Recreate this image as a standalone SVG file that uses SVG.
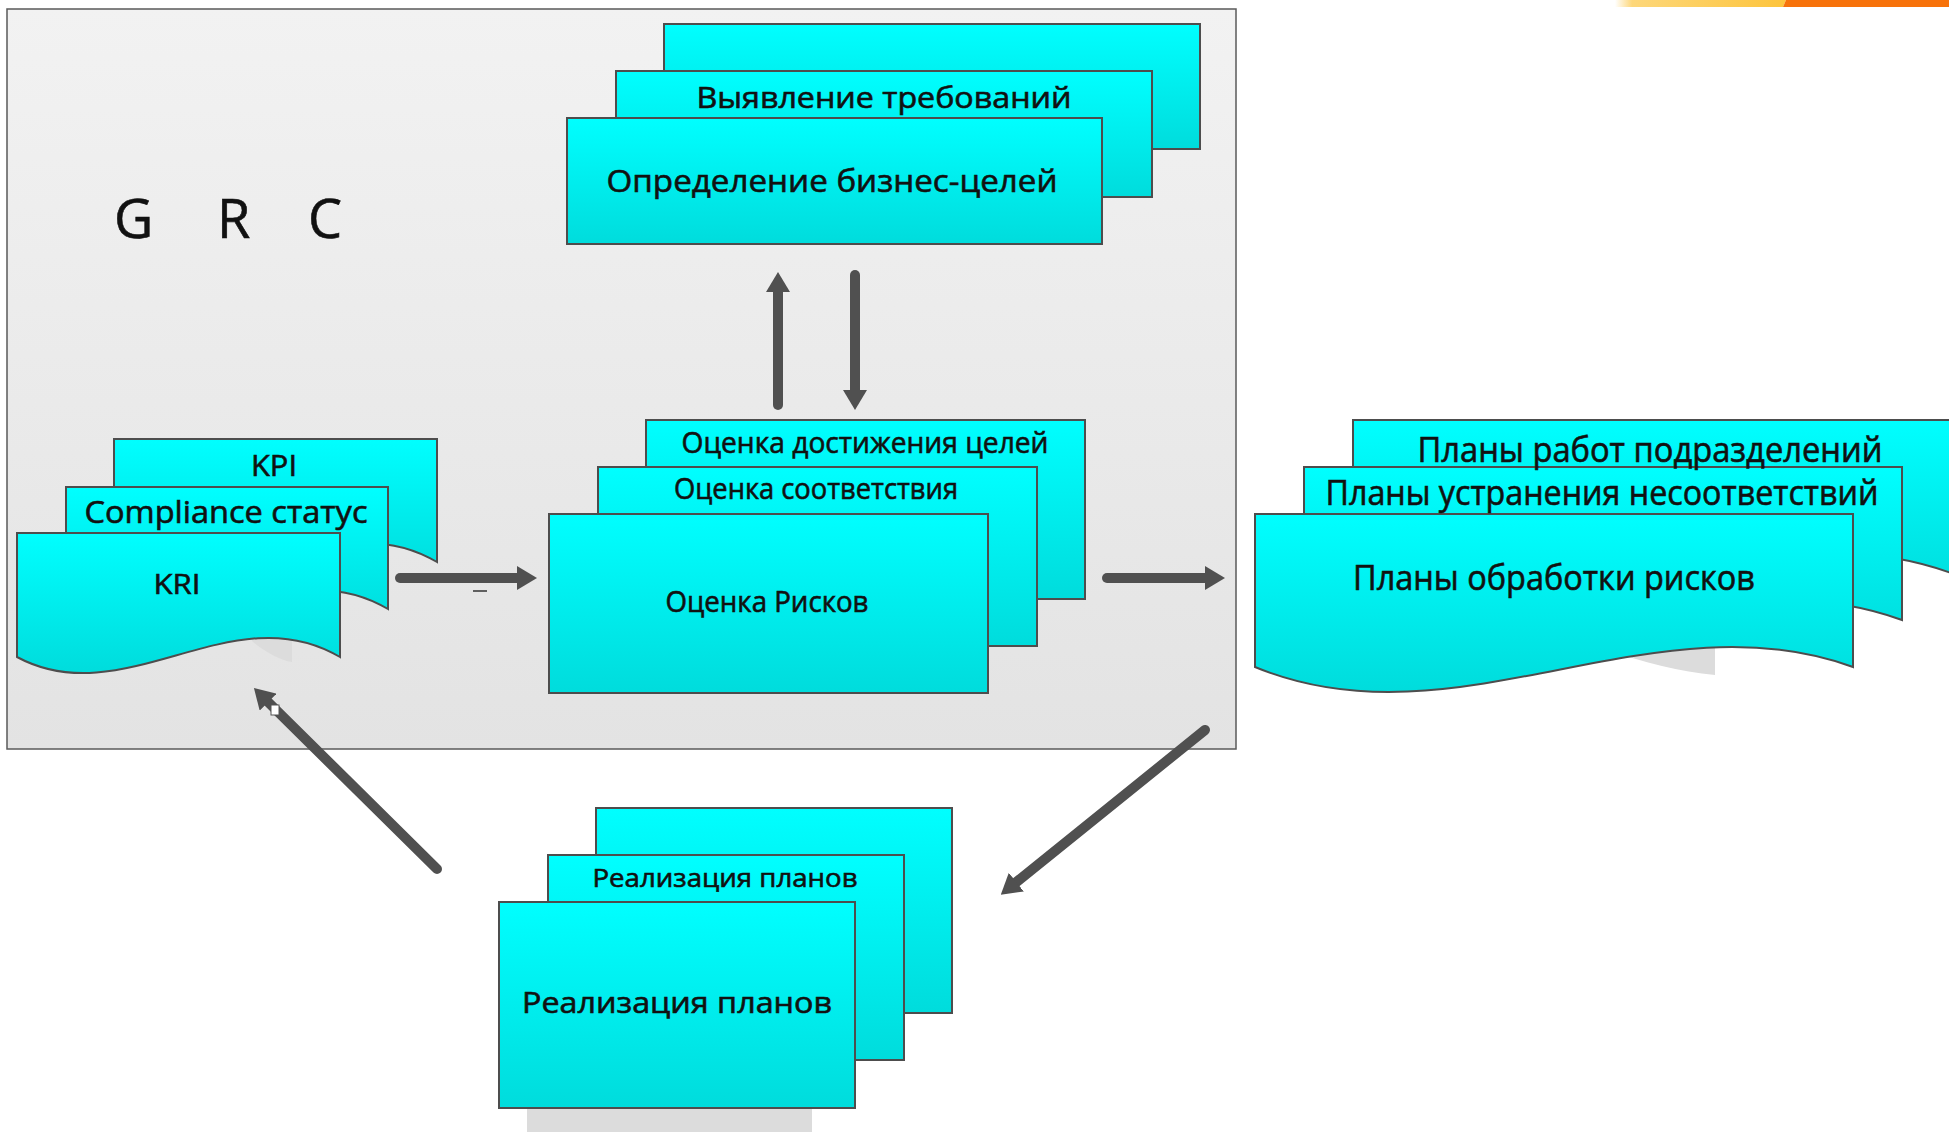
<svg xmlns="http://www.w3.org/2000/svg" width="1949" height="1132" viewBox="0 0 1949 1132">
<style>
  .box { fill: url(#cyan); stroke: #4d4d4d; stroke-width: 2; }
  .frame { fill: url(#grayfill); stroke: #5a5a5a; stroke-width: 1.5; }
  .shadow { fill: #dcdcdc; }
  .t { font-family: "Open Sans", "Liberation Sans", sans-serif; fill: #111; stroke: #111; stroke-width: 0.6; text-anchor: middle; }
  .grc { font-family: "Open Sans", "Liberation Sans", sans-serif; fill: #111; stroke: #111; stroke-width: 0.6; font-size: 54px; }
  .conn { stroke: #505050; stroke-width: 10; stroke-linecap: round; fill: none; marker-end: url(#ah); }
</style>
<defs>
  <linearGradient id="cyan" x1="0" y1="0" x2="0" y2="1">
    <stop offset="0" stop-color="#00ffff"/>
    <stop offset="1" stop-color="#00dcdc"/>
  </linearGradient>
  <linearGradient id="grayfill" x1="0" y1="0" x2="0" y2="1">
    <stop offset="0" stop-color="#f2f2f2"/>
    <stop offset="1" stop-color="#e3e3e3"/>
  </linearGradient>
  <linearGradient id="yellow" x1="0" y1="0" x2="1" y2="0">
    <stop offset="0" stop-color="#ffffff"/>
    <stop offset="0.1" stop-color="#fdd77a"/>
    <stop offset="1" stop-color="#fdc43c"/>
  </linearGradient>
  <marker id="ah" markerUnits="userSpaceOnUse" markerWidth="20" markerHeight="24" viewBox="0 0 20 24" refX="3" refY="12" orient="auto">
    <path d="M0,0 L20,12 L0,24 Z" fill="#505050"/>
  </marker>
</defs>

<rect x="0" y="0" width="1949" height="1132" fill="#ffffff"/>

<g id="corner-bar">
  <polygon points="1615,0 1786,0 1783,7 1615,7" fill="url(#yellow)"/>
  <polygon points="1786,0 1949,0 1949,7 1783,7" fill="#f7720a"/>
</g>

<g id="grc-frame">
  <rect class="frame" x="7" y="9" width="1229" height="740"/>
  <text class="grc" y="238"><tspan x="114">G</tspan> <tspan x="217">R</tspan> <tspan x="308">C</tspan></text>
</g>

<g id="node-goals">
  <rect class="box" x="664" y="24" width="536" height="125"/>
  <rect class="box" x="616" y="71" width="536" height="126"/>
  <rect class="box" x="567" y="118" width="535" height="126"/>
  <text class="t" x="884" y="108" font-size="29" textLength="375" lengthAdjust="spacingAndGlyphs">Выявление требований</text>
  <text class="t" x="832" y="192" font-size="31" textLength="451" lengthAdjust="spacingAndGlyphs">Определение бизнес-целей</text>
</g>

<g id="node-indicators">
  <path class="box" d="M114,439 H437 V562 C329.3,498 221.7,620 114,562 Z"/>
  <path class="box" d="M66,487 H388 V609 C280.7,545 173.3,667 66,609 Z"/>
  <path class="shadow" d="M250,620 H292 V662 C280,660 265,652 252,641 Z"/>
  <path class="box" d="M17,533 H340 V657 C232.3,593 124.7,715 17,657 Z"/>
  <text class="t" x="274" y="476" font-size="30" textLength="46" lengthAdjust="spacingAndGlyphs">KPI</text>
  <text class="t" x="226" y="523" font-size="31" textLength="283" lengthAdjust="spacingAndGlyphs">Compliance статус</text>
  <text class="t" x="177" y="594" font-size="28" textLength="47" lengthAdjust="spacingAndGlyphs">KRI</text>
</g>

<g id="node-assessment">
  <rect class="box" x="646" y="420" width="439" height="179"/>
  <rect class="box" x="598" y="467" width="439" height="179"/>
  <rect class="box" x="549" y="514" width="439" height="179"/>
  <text class="t" x="865" y="453" font-size="29" textLength="367" lengthAdjust="spacingAndGlyphs">Оценка достижения целей</text>
  <text class="t" x="816" y="499" font-size="29" textLength="284" lengthAdjust="spacingAndGlyphs">Оценка соответствия</text>
  <text class="t" x="767" y="612" font-size="29" textLength="203" lengthAdjust="spacingAndGlyphs">Оценка Рисков</text>
</g>

<g id="node-plans">
  <path class="box" d="M1353,420 H1951 V573 C1751.7,500 1552.3,656 1353,573 Z"/>
  <path class="box" d="M1304,467 H1902 V620 C1702.7,547 1503.3,703 1304,620 Z"/>
  <path class="shadow" d="M1600,600 H1715 V675 C1680,672 1645,662 1605,650 Z"/>
  <path class="box" d="M1255,514 H1853 V667 C1653.7,594 1454.3,750 1255,667 Z"/>
  <text class="t" x="1650" y="462" font-size="34" textLength="465" lengthAdjust="spacingAndGlyphs">Планы работ подразделений</text>
  <text class="t" x="1602" y="505" font-size="34" textLength="553" lengthAdjust="spacingAndGlyphs">Планы устранения несоответствий</text>
  <text class="t" x="1554" y="590" font-size="34" textLength="402" lengthAdjust="spacingAndGlyphs">Планы обработки рисков</text>
</g>

<g id="node-implementation">
  <rect class="shadow" x="527" y="1000" width="285" height="132" fill="#e6e6e6"/>
  <rect class="box" x="596" y="808" width="356" height="205"/>
  <rect class="box" x="548" y="855" width="356" height="205"/>
  <rect class="box" x="499" y="902" width="356" height="206"/>
  <text class="t" x="725" y="887" font-size="26" textLength="265" lengthAdjust="spacingAndGlyphs">Реализация планов</text>
  <text class="t" x="677" y="1013" font-size="29" textLength="310" lengthAdjust="spacingAndGlyphs">Реализация планов</text>
</g>

<g id="connectors">
  <path class="conn" d="M400,578 L520,578"/>
  <line x1="473" y1="591" x2="487" y2="591" stroke="#333" stroke-width="1.5"/>
  <path class="conn" d="M1107,578 L1208,578"/>
  <path class="conn" d="M778,405 L778,289"/>
  <path class="conn" d="M855,275 L855,393"/>
  <path class="conn" d="M437,869 L266,700"/>
  <rect x="271" y="705" width="8" height="10" fill="#ffffff" stroke="#555" stroke-width="1"/>
  <path class="conn" d="M1205,730 L1014,884"/>
</g>
</svg>
